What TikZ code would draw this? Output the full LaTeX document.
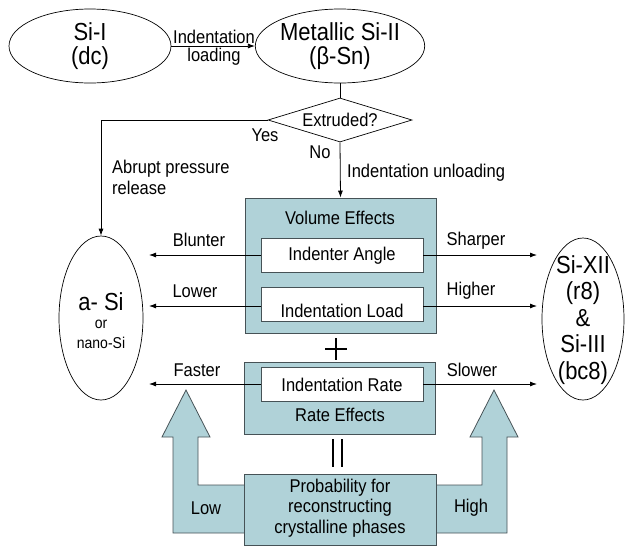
\documentclass[tikz,border=0pt]{standalone}
\usepackage{fontspec}
\setmainfont{Liberation Sans}
\usetikzlibrary{shapes.geometric,arrows.meta}
\definecolor{teal1}{RGB}{176,210,216}
\definecolor{edge}{RGB}{70,82,86}
\newcommand\tall[1]{\scalebox{1}[1.12]{#1}}
\begin{document}
\begin{tikzpicture}[x=1pt,y=-1pt,
  big/.style={font=\fontsize{22}{24.5}\selectfont},
  txt/.style={font=\fontsize{16.5}{20}\selectfont, inner sep=0pt, align=center},
  small/.style={font=\fontsize{14}{18}\selectfont, inner sep=0pt},
  oval/.style={draw, ellipse, inner sep=0pt, line width=0.7pt, align=center, big},
  tealbox/.style={draw=edge, fill=teal1, line width=0.8pt, inner sep=0pt},
  whitebox/.style={draw=edge, fill=white, line width=0.8pt, inner sep=0pt, minimum width=162pt, minimum height=34pt},
  conn/.style={line width=0.8pt},
  arr/.style={conn, -{Latex[length=7pt,width=5pt]}},
  bigarrow/.style={draw=edge, fill=teal1, line width=0.8pt, line join=miter},
]
\useasboundingbox (0,0) rectangle (625,547);

% top ellipses
\node[oval, minimum width=162pt, minimum height=74pt] (si1) at (90,46) {\tall{Si-I}\\\tall{(dc)}};
\node[oval, minimum width=164pt, minimum height=74pt] (met) at (340,46) {\tall{Metallic Si-II}\\\tall{(β-Sn)}};
\draw[arr] (si1.east) -- (met.west);
\node[txt] (ilo1) at (214,37) {\tall{Indentation}};
\node[txt] (ilo2) at (214,57) {\tall{loading}};

% diamond
\node[draw, diamond, line width=0.7pt, inner sep=0pt, aspect=3.27, minimum width=144pt, minimum height=44pt, txt] (dia) at (340,120) {\tall{Extruded?}};
\draw[conn] (met.south) -- (dia.north);

% side ellipses
\node[oval, minimum width=84pt, minimum height=164pt] (asi) at (101,318) {};
\node[big, inner sep=0pt] (asit) at (101,302) {\tall{a- Si}};
\node[small] (asior) at (101,324) {\tall{or}};
\node[small] (asinano) at (101,343) {\tall{nano-Si}};
\node[oval, minimum width=82pt, minimum height=162pt] (sixii) at (583,319) {};
\node[big, inner sep=0pt, align=center, font=\fontsize{22}{26.5}\selectfont] (sixiit) at (583,320) {\tall{Si-XII}\\\tall{(r8)}\\\tall{\&}\\\tall{Si-III}\\\tall{(bc8)}};

% Yes branch
\draw[arr] (dia.west) -| (asi.north);
\node[txt] (yes) at (265,135) {\tall{Yes}};
\node[txt, anchor=west] (abr1) at (112,169) {\tall{Abrupt pressure}};
\node[txt, anchor=west] (abr2) at (112,188) {\tall{release}};

% big arrows (behind probability box)
\draw[bigarrow] (436,485) -- (482,485) -- (482,437) -- (470,437) -- (494,390) -- (518,437) -- (507,437) -- (507,533) -- (436,533);
\draw[bigarrow] (244,485) -- (198,485) -- (198,437) -- (210,437) -- (186,390) -- (162,437) -- (173,437) -- (173,533) -- (244,533);

% volume box
\node[tealbox, minimum width=191pt, minimum height=135pt] (vol) at (340.5,265.5) {};
\node[txt] (volt) at (340,218) {\tall{Volume Effects}};
\node[whitebox] (ang) at (342,255) {};
\node[txt] (angt) at (342,256) {\tall{Indenter Angle}};
\node[whitebox] (load) at (342,304) {};
\node[txt] (loadt) at (342,311) {\tall{Indentation Load}};

% No branch
\draw[arr] (dia.south) -- (vol.north);
\node[txt] (no) at (320,152) {\tall{No}};
\node[txt, anchor=west] (unl) at (347,173) {\tall{Indentation unloading}};

% rate box
\node[tealbox, minimum width=191pt, minimum height=72pt] (rate) at (340,398) {};
\node[whitebox] (rt) at (342,384) {};
\node[txt] (rtt) at (342,385) {\tall{Indentation Rate}};
\node[txt] (ratet) at (340,415) {\tall{Rate Effects}};

% probability box
\node[tealbox, minimum width=192pt, minimum height=71pt] (prob) at (340,509.5) {};
\node[txt, font=\fontsize{16.5}{20.5}\selectfont] (probt) at (340,508) {\tall{Probability for}\\\tall{reconstructing}\\\tall{crystalline phases}};
\node[txt] (low) at (206,508) {\tall{Low}};
\node[txt] (high) at (471,508) {\tall{High}};

% plus and equals
\coordinate (pl1) at (325,349); \coordinate (pl2) at (347,349);
\coordinate (pl3) at (336,338); \coordinate (pl4) at (336,360);
\draw[line width=1.6pt] (pl1) -- (pl2);
\draw[line width=1.6pt] (pl3) -- (pl4);
\coordinate (eq1) at (333,439); \coordinate (eq2) at (333,467);
\coordinate (eq3) at (342,439); \coordinate (eq4) at (342,467);
\draw[line width=1.6pt] (eq1) -- (eq2);
\draw[line width=1.6pt] (eq3) -- (eq4);

% effect arrows
\coordinate (tl1) at (149,255); \coordinate (tr1) at (537,255);
\coordinate (tl2) at (149,306); \coordinate (tr2) at (537,306);
\coordinate (tl3) at (149,384); \coordinate (tr3) at (537,384);
\draw[arr] (ang.west) -- (tl1);
\draw[arr] (ang.east) -- (tr1);
\draw[arr] (ang.west |- tl2) -- (tl2);
\draw[arr] (ang.east |- tr2) -- (tr2);
\draw[arr] (rt.west) -- (tl3);
\draw[arr] (rt.east) -- (tr3);
\node[txt] (blunt) at (199,240) {\tall{Blunter}};
\node[txt] (sharp) at (476,241) {\tall{Sharper}};
\node[txt] (lower) at (195,291) {\tall{Lower}};
\node[txt] (higher) at (471,291) {\tall{Higher}};
\node[txt] (faster) at (197,370) {\tall{Faster}};
\node[txt] (slower) at (472,370) {\tall{Slower}};
\end{tikzpicture}
\end{document}
